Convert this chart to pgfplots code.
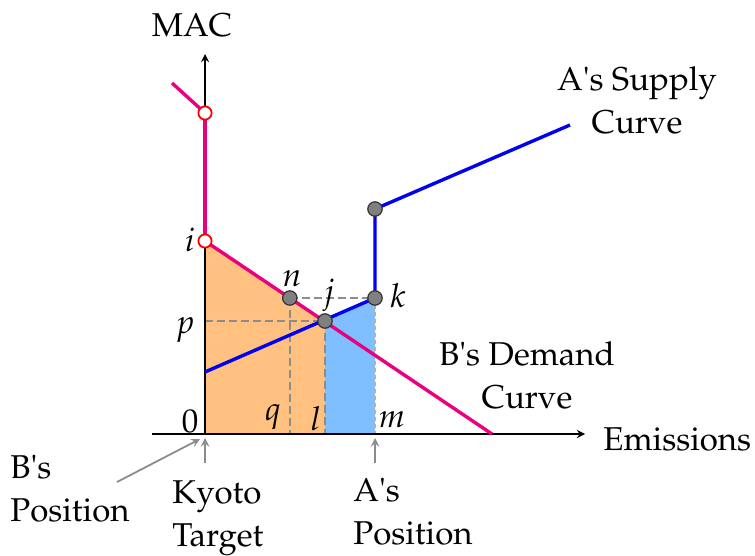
\documentclass[border=0pt]{standalone}
\usepackage[T1]{fontenc}
\usepackage{mathpazo}
\usepackage{textcomp}
\usepackage{pgfplots}
\pgfplotsset{compat=1.18}
\definecolor{demand}{RGB}{232,0,126}
\definecolor{supply}{RGB}{0,0,245}
\definecolor{orangefill}{RGB}{255,192,128}
\definecolor{bluefill}{RGB}{128,191,255}
\definecolor{dashgray}{RGB}{140,140,140}
\newcommand{\q}{\textquotesingle}
\begin{document}
\fontsize{16.5}{21.5}\selectfont
\begin{tikzpicture}
\begin{axis}[
	x=5pt, y=5pt,
	xmin=-20.5, xmax=55, ymin=-11.7, ymax=43.4,
	hide axis, clip=false,
]
% invisible frame for page size
\path (axis cs:-20.5,-11.7) rectangle (axis cs:55,43.4);

% areas
\addplot[draw=none, fill=orangefill] coordinates {(0,0) (0,19.3) (12,11.3) (12,0)} -- cycle;
\addplot[draw=none, fill=bluefill] coordinates {(12,0) (12,11.3) (17,13.6) (17,0)} -- cycle;

% guide lines
\pgfplotsset{guide/.style={dashgray, line width=1.15pt, dash pattern=on 4pt off 2pt}}
\addplot[guide] coordinates {(8.48,13.6) (17,13.6)};
\addplot[guide] coordinates {(0,11.3) (12,11.3)};
\addplot[guide] coordinates {(8.48,13.6) (8.48,0)};
\addplot[guide] coordinates {(12,11.3) (12,0)};
\addplot[gray!60, line width=0.7pt, dash pattern=on 2pt off 1.5pt] coordinates {(17,13.6) (17,0)};

% axes
\draw[line width=0.8pt, -stealth] (axis cs:-5.3,0) -- (axis cs:38,0);
\draw[line width=0.8pt, -stealth] (axis cs:0,0) -- (axis cs:0,38);

% B's demand curve
\addplot[demand, line width=1.7pt] coordinates {(-3.3,35.1) (0,32.1)};
\addplot[demand, line width=1.7pt] coordinates {(0,32.1) (0,19.3)};
\addplot[demand, line width=1.7pt] coordinates {(0,19.3) (28.7,0)};

% A's supply curve
\addplot[supply, line width=1.7pt] coordinates {(0,6.2) (17,13.6) (17,22.5) (36.5,30.9)};

% points
\addplot[only marks, mark=*, mark size=3.3pt, mark options={draw=red, fill=white, line width=0.9pt}] coordinates {(0,32.1) (0,19.3)};
\addplot[only marks, mark=*, mark size=3.6pt, mark options={draw=black!80, fill=gray, line width=0.6pt}] coordinates {(8.48,13.6) (12,11.3) (17,13.6) (17,22.5)};

% point labels
\begin{scope}[every node/.style={inner sep=0pt, anchor=base}]
\node at (axis cs:-1.5,18.2) {$i$};
\node at (axis cs:-2.0,10.0) {$p$};
\node at (axis cs:-1.5,0.2) {0};
\node at (axis cs:8.7,14.7) {$n$};
\node at (axis cs:12.4,13.2) {$j$};
\node at (axis cs:19.3,12.6) {$k$};
\node at (axis cs:6.8,1.4) {$q$};
\node at (axis cs:11.1,0.4) {$l$};
\node at (axis cs:18.7,0.7) {$m$};
\node at (axis cs:-1.3,39.7) {MAC};
\end{scope}

% axis titles
\node[anchor=west, inner sep=0pt] at (axis cs:39.8,-0.5) {Emissions};
\node[align=center] at (axis cs:43.2,33.4) {A\q s Supply\\Curve};
\node[align=center] at (axis cs:32.2,5.9) {B\q s Demand\\Curve};

% bottom annotations
\draw[dashgray, line width=0.9pt, -stealth] (axis cs:0,-2.9) -- (axis cs:0,-0.4);
\draw[dashgray, line width=0.9pt, -stealth] (axis cs:17,-2.9) -- (axis cs:17,-0.4);
\draw[dashgray, line width=0.9pt, -stealth] (axis cs:-8.8,-4.8) -- (axis cs:-0.5,-0.5);
\node[align=left, anchor=north west, inner sep=0pt] at (axis cs:-19.5,-2.0) {B\q s\\Position};
\node[align=left, anchor=north west, inner sep=0pt] at (axis cs:-3.3,-4.6) {Kyoto\\Target};
\node[align=left, anchor=north west, inner sep=0pt] at (axis cs:14.8,-4.3) {A\q s\\Position};
\end{axis}
\end{tikzpicture}
\end{document}
